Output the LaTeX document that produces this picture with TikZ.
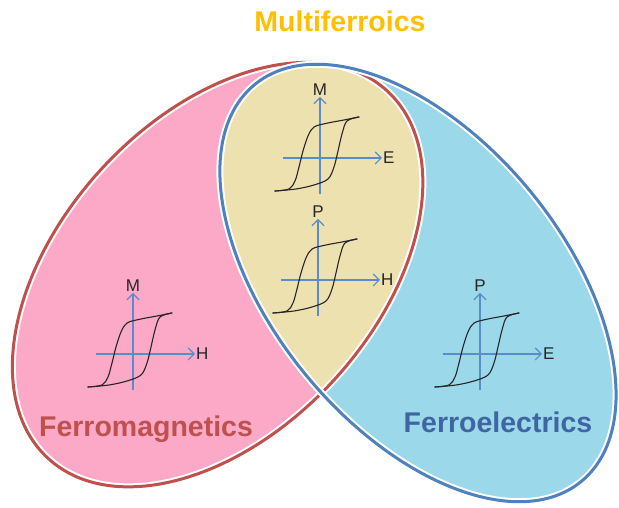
\documentclass[tikz,border=0pt]{standalone}
\usepackage{fontspec}
\setmainfont{Liberation Sans}
\usetikzlibrary{arrows.meta}
\definecolor{fmpink}{HTML}{FBA9C7}
\definecolor{feblue}{HTML}{9BD8E9}
\definecolor{mftan}{HTML}{EEE1B0}
\definecolor{fmred}{HTML}{C0504D}
\definecolor{feline}{HTML}{4F81BD}
\definecolor{axisblue}{HTML}{5A8CCB}
\definecolor{mfgold}{HTML}{FFC000}
\definecolor{fetext}{HTML}{3F65A3}
\tikzset{
  axis/.style={draw=axisblue, line width=1.1pt, -{Straight Barb[length=6pt,width=12pt]}},
  hloop/.style={draw=black!85, line width=1.1pt, line join=round, line cap=round},
  axlab/.style={font=\fontsize{17}{17}\selectfont, text=black!85, inner sep=1pt},
  pics/hyst/.style 2 args={code={
    \coordinate (-xs) at (-37,0);
    \coordinate (-xe) at (62,0);
    \coordinate (-ys) at (0,-36);
    \coordinate (-ye) at (0,61);
    \draw[axis] (-xs) -- (-xe);
    \draw[axis] (-ys) -- (-ye);
    % rising and falling branches
    \draw[hloop] plot[smooth, tension=0.55] coordinates {(-45,-33) (-31,-31) (-25,-23) (-21,-9) (-17,7) (-12,22) (-6,31) (8,35) (24,38) (39,41)};
    \draw[hloop] plot[smooth, tension=0.55] coordinates {(39,41) (27,37) (22,24) (18,7) (14,-9) (8,-21) (-6,-27) (-24,-31) (-45,-33)};
    \node[axlab, anchor=west] (-xl) at (-xe) {#1};
    \node[axlab, anchor=south] (-yl) at (-ye) {#2};
  }},
  fmshape/.style={rotate around={47.2:(fmc)}},
  feshape/.style={rotate around={-50.5:(fec)}},
  rim/.style={draw=white, line width=7pt},
  bigtext/.style={font=\fontsize{28.5}{28.5}\selectfont\bfseries, inner sep=0pt, anchor=base}
}
\begin{document}
\begin{tikzpicture}[x=1pt, y=1pt]
\path[fill=white] (0,0) rectangle (619,508);
\useasboundingbox (0,0) rectangle (619,508);
\coordinate (fmc) at (217.6,233.4);
\coordinate (fec) at (418,225);
% sets
\fill[fmpink, fmshape] (fmc) ellipse [x radius=250, y radius=157];
\fill[feblue, feshape] (fec) ellipse [x radius=257, y radius=145];
\begin{scope}
  \clip[fmshape] (fmc) ellipse [x radius=250, y radius=157];
  \fill[mftan, feshape] (fec) ellipse [x radius=257, y radius=145];
\end{scope}
\draw[rim, fmshape] (fmc) ellipse [x radius=250, y radius=157];
\draw[fmred, line width=3pt, fmshape] (fmc) ellipse [x radius=250, y radius=157];
\draw[rim, feshape] (fec) ellipse [x radius=257, y radius=145];
\draw[feline, line width=3pt, feshape] (fec) ellipse [x radius=257, y radius=145];
% loops
\pic (fm) at (133,154) {hyst={H}{M}};
\pic (mfa) at (320,350) {hyst={E}{M}};
\pic (mfb) at (318,228) {hyst={H}{P}};
\pic (fe) at (480,154) {hyst={E}{P}};
% labels
\node[bigtext, text=mfgold] (mf) at (340,476) {Multiferroics};
\node[bigtext, text=fmred] (fmname) at (146,71) {Ferromagnetics};
\node[bigtext, text=fetext] (fename) at (498,75) {Ferroelectrics};
\end{tikzpicture}
\end{document}
